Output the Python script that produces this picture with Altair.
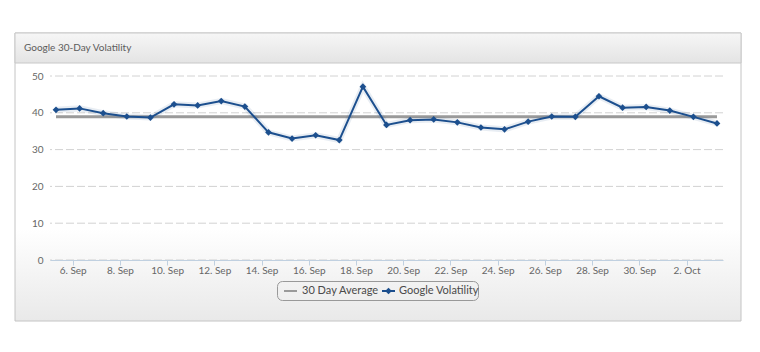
import altair as alt
import pandas as pd

# ---- data ----
dates = [
    "2012-09-05T07:00:00Z", "2012-09-06T07:00:00Z", "2012-09-07T07:00:00Z",
    "2012-09-08T07:00:00Z", "2012-09-09T07:00:00Z", "2012-09-10T07:00:00Z",
    "2012-09-11T07:00:00Z", "2012-09-12T07:00:00Z", "2012-09-13T07:00:00Z",
    "2012-09-14T07:00:00Z", "2012-09-15T07:00:00Z", "2012-09-16T07:00:00Z",
    "2012-09-17T07:00:00Z", "2012-09-18T07:00:00Z", "2012-09-19T07:00:00Z",
    "2012-09-20T07:00:00Z", "2012-09-21T07:00:00Z", "2012-09-22T07:00:00Z",
    "2012-09-23T07:00:00Z", "2012-09-24T07:00:00Z", "2012-09-25T07:00:00Z",
    "2012-09-26T07:00:00Z", "2012-09-27T07:00:00Z", "2012-09-28T07:00:00Z",
    "2012-09-29T07:00:00Z", "2012-09-30T07:00:00Z", "2012-10-01T07:00:00Z",
    "2012-10-02T07:00:00Z", "2012-10-03T07:00:00Z",
]
volatility = [
    40.8, 41.2, 39.9, 39.0, 38.7, 42.3, 42.0, 43.2, 41.7, 34.7,
    33.0, 33.9, 32.6, 47.1, 36.7, 38.0, 38.2, 37.4, 36.0, 35.5,
    37.6, 39.0, 38.9, 44.5, 41.4, 41.6, 40.6, 38.9, 37.1,
]
average_value = 38.9
y_ticks = [0, 10, 20, 30, 40, 50]
x_tick_days = [(9, 6), (9, 8), (9, 10), (9, 12), (9, 14), (9, 16), (9, 18),
               (9, 20), (9, 22), (9, 24), (9, 26), (9, 28), (9, 30), (10, 2)]
title_text = "Google 30-Day Volatility"
series_names = ["30 Day Average", "Google Volatility"]

BLUE = "#1c4f8e"
GRAY = "#9a9a9a"
FONT = "Lato"

W, H = 673, 184

vol_df = pd.DataFrame({"date": dates, "value": volatility})
avg_df = pd.DataFrame({"date": [dates[0]], "date2": [dates[-1]], "value": [average_value]})
grid_df = pd.DataFrame({"value": y_ticks})
one = pd.DataFrame({"k": [0]})

X = alt.X(
    "date:T",
    title=None,
    scale=alt.Scale(type="utc", padding=6, nice=False),
    axis=alt.Axis(
        values=[alt.DateTime(year=2012, month=m, date=d, utc=True) for m, d in x_tick_days],
        format="%-d. %b",
        grid=False,
        domainColor="#C0D0E0",
        tickColor="#C0D0E0",
        tickSize=5,
        labelPadding=0,
        labelColor="#666666",
        labelFont=FONT,
        labelFontSize=10,
        labelFlush=False,
        labelOverlap=False,
        zindex=1,
    ),
)
Y = alt.Y(
    "value:Q",
    title=None,
    scale=alt.Scale(domain=[0, 50], nice=False),
    axis=alt.Axis(
        values=y_ticks,
        grid=False,
        domain=False,
        ticks=False,
        labelPadding=7,
        labelColor="#666666",
        labelFont=FONT,
        labelFontSize=10,
        zindex=1,
    ),
)

# ---- panel decoration ----
body = alt.Chart(one).mark_rect(
    fill=alt.Gradient(
        gradient="linear",
        stops=[
            alt.GradientStop(color="#ffffff", offset=0),
            alt.GradientStop(color="#ffffff", offset=0.68),
            alt.GradientStop(color="#e9e9e9", offset=1),
        ],
        x1=0, x2=0, y1=0, y2=1,
    ),
    stroke="#c4c4c4",
    strokeWidth=1,
).encode(x=alt.value(-35), x2=alt.value(691), y=alt.value(-43), y2=alt.value(245))

header = alt.Chart(one).mark_rect(
    fill=alt.Gradient(
        gradient="linear",
        stops=[
            alt.GradientStop(color="#f6f6f6", offset=0),
            alt.GradientStop(color="#e4e4e4", offset=1),
        ],
        x1=0, x2=0, y1=0, y2=1,
    ),
    stroke="#c8c8c8",
    strokeWidth=1,
).encode(x=alt.value(-35), x2=alt.value(691), y=alt.value(-43), y2=alt.value(-13))

title = alt.Chart(one).mark_text(
    text=title_text, align="left", baseline="middle",
    font=FONT, fontSize=10, color="#5c5c5c",
).encode(x=alt.value(-26), y=alt.value(-28))

# ---- plot ----
grid = alt.Chart(grid_df).mark_rule(
    color="#d2d2d2", strokeWidth=1, strokeDash=[8, 3]
).encode(y=Y)

avg = alt.Chart(avg_df).mark_rule(color=GRAY, strokeWidth=3).encode(
    x=X, x2="date2:T", y=Y
)

halo = alt.Chart(vol_df).mark_line(color=BLUE, strokeWidth=6, opacity=0.10).encode(x=X, y=Y)
line = alt.Chart(vol_df).mark_line(color=BLUE, strokeWidth=2).encode(x=X, y=Y)
pts = alt.Chart(vol_df).mark_point(
    shape="diamond", filled=True, color=BLUE, size=45, opacity=1
).encode(x=X, y=Y)

# ---- legend ----
leg_box = alt.Chart(one).mark_rect(
    fill="#ffffff", fillOpacity=0.0, stroke="#999999", strokeWidth=1, cornerRadius=5
).encode(x=alt.value(227.5), x2=alt.value(428.5), y=alt.value(205.5), y2=alt.value(224.5))
leg_avg_sym = alt.Chart(one).mark_rule(color=GRAY, strokeWidth=2).encode(
    x=alt.value(234), x2=alt.value(247), y=alt.value(215)
)
leg_avg_txt = alt.Chart(one).mark_text(
    text=series_names[0], align="left", baseline="middle",
    font=FONT, fontSize=11, color="#4a4a4a",
).encode(x=alt.value(252), y=alt.value(215))
leg_vol_sym = alt.Chart(one).mark_rule(color=BLUE, strokeWidth=2).encode(
    x=alt.value(332), x2=alt.value(345), y=alt.value(215)
)
leg_vol_pt = alt.Chart(one).mark_point(
    shape="diamond", filled=True, color=BLUE, size=45, opacity=1
).encode(x=alt.value(338.5), y=alt.value(215))
leg_vol_txt = alt.Chart(one).mark_text(
    text=series_names[1], align="left", baseline="middle",
    font=FONT, fontSize=11, color="#4a4a4a",
).encode(x=alt.value(349), y=alt.value(215))

chart = alt.layer(
    body, header, title, grid, avg, halo, line, pts,
    leg_box, leg_avg_sym, leg_avg_txt, leg_vol_sym, leg_vol_pt, leg_vol_txt,
).properties(
    width=W,
    height=H,
    autosize=alt.AutoSizeParams(type="none"),
    padding={"left": 50, "top": 76, "right": 37, "bottom": 92},
    background="#ffffff",
).configure_view(stroke=None)

chart.save("out.html", embed_options={"renderer": "svg", "actions": False})
